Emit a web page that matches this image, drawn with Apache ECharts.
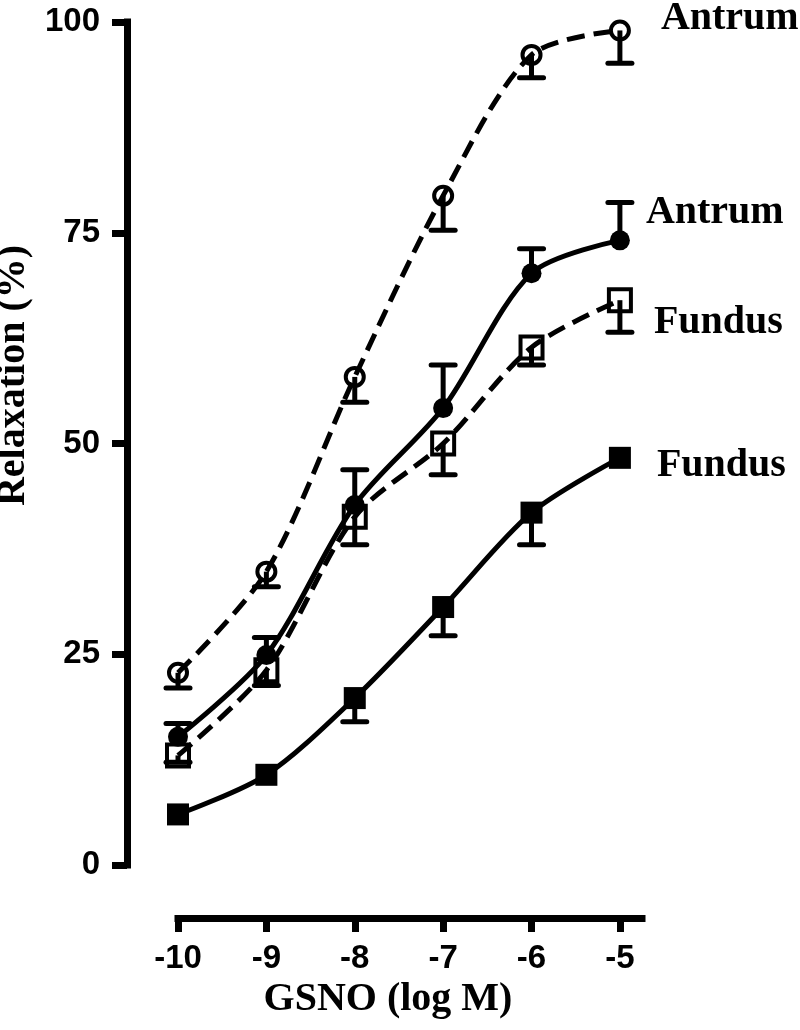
<!DOCTYPE html>
<html>
<head>
<meta charset="utf-8">
<script src="https://cdn.jsdelivr.net/npm/echarts@6/dist/echarts.min.js"></script>
<style>
  html, body { margin: 0; padding: 0; background: #fff; }
  #chart { width: 800px; height: 1030px; }
</style>
</head>
<body>
<div id="chart"></div>
<script>
// ---- data ----
const xLogM = [-10, -9, -8, -7, -6, -5];
const xTickLabels = ['-10', '-9', '-8', '-7', '-6', '-5'];
const yTicks = [0, 25, 50, 75, 100];

const antrumOpen       = [22.8, 34.8, 57.9, 79.4, 96.1, 99.0];
const antrumOpenErr    = [1.8, 1.8, 3.0, 4.1, 2.7, 3.9];   // bars drawn downward
const antrumFilled     = [15.2, 24.9, 42.7, 54.2, 70.2, 74.1];
const antrumFilledErr  = [1.6, 2.1, 4.2, 5.1, 2.9, 4.5];   // bars drawn upward
const fundusOpen       = [13.0, 23.1, 41.3, 50.0, 61.4, 67.0];
const fundusOpenErr    = [0.8, 1.8, 3.3, 3.7, 2.1, 3.8];   // bars drawn downward
const fundusFilled     = [6.0, 10.7, 19.8, 30.6, 41.8, 48.3];
const fundusFilledErr  = [0, 0, 2.8, 3.4, 3.8, 0];         // bars drawn downward

const seriesLabels = ['Antrum', 'Antrum', 'Fundus', 'Fundus'];
const xTitle = 'GSNO (log M)';
const yTitle = 'Relaxation (%)';

// ---- helpers ----
const BLACK = '#000';
const serif = 'Liberation Serif';
const sans = 'Liberation Sans';

function pts(vals) { return xLogM.map((x, i) => [x, vals[i]]); }
function withEndLabel(vals, text, offset) {
  const d = pts(vals);
  const last = d.length - 1;
  d[last] = {
    value: d[last],
    label: {
      show: true, position: 'right', offset: offset, formatter: text,
      color: BLACK, fontFamily: serif, fontWeight: 'bold', fontSize: 40
    }
  };
  return d;
}
function errData(vals, errs, dir) {
  return xLogM.map((x, i) => [x, vals[i], vals[i] + dir * errs[i]]);
}
function errSeries(vals, errs, dir) {
  return {
    type: 'custom',
    clip: false,
    z: 3,
    data: errData(vals, errs, dir),
    renderItem: function (params, api) {
      const x = api.value(0), y0 = api.value(1), y1 = api.value(2);
      if (Math.abs(y1 - y0) < 1e-9) return null;
      const p0 = api.coord([x, y0]);
      const p1 = api.coord([x, y1]);
      const half = 12;
      const style = { stroke: BLACK, lineWidth: 5, fill: null };
      return {
        type: 'group',
        children: [
          { type: 'line', shape: { x1: p0[0], y1: p0[1], x2: p1[0], y2: p1[1] }, style: style },
          { type: 'line', shape: { x1: p1[0] - half, y1: p1[1], x2: p1[0] + half, y2: p1[1] },
            style: Object.assign({ lineCap: 'round' }, style) }
        ]
      };
    }
  };
}
function lineSeries(data, dashed, symbol, size, filled) {
  return {
    type: 'line',
    data: data,
    smooth: 0.3,
    clip: false,
    z: 4,
    symbol: symbol,
    symbolSize: size,
    showAllSymbol: true,
    lineStyle: { color: BLACK, width: 5, type: dashed ? [18, 9] : 'solid' },
    itemStyle: {
      color: filled ? BLACK : 'rgba(255,255,255,0)',
      borderColor: BLACK,
      borderWidth: filled ? 0 : 4,
      opacity: 1
    },
    emphasis: { disabled: true }
  };
}

const chart = echarts.init(document.getElementById('chart'), null, { renderer: 'canvas' });
chart.setOption({
  backgroundColor: '#fff',
  animation: false,
  grid: { left: 178, right: 158, top: 22, bottom: 165, containLabel: false, outerBoundsMode: 'none' },
  xAxis: {
    type: 'value',
    min: -10, max: -4.75, interval: 1,
    offset: 53,
    axisLine: { show: true, onZero: false, lineStyle: { color: BLACK, width: 7, cap: 'square' } },
    axisTick: { show: true, inside: false, length: 14, customValues: xLogM,
                lineStyle: { color: BLACK, width: 7 } },
    axisLabel: { show: true, customValues: xLogM, margin: 24, color: BLACK,
                 fontFamily: sans, fontWeight: 'bold', fontSize: 33,
                 formatter: function (v) { const i = xLogM.indexOf(v); return i >= 0 ? xTickLabels[i] : ''; } },
    splitLine: { show: false },
    name: xTitle, nameLocation: 'middle', nameGap: 60,
    nameTextStyle: { color: BLACK, fontFamily: serif, fontWeight: 'bold', fontSize: 40, padding: [0, 44, 0, 0] }
  },
  yAxis: {
    type: 'value',
    min: 0, max: 100, interval: 25,
    offset: 51,
    axisLine: { show: true, onZero: false, lineStyle: { color: BLACK, width: 7, cap: 'square' } },
    axisTick: { show: true, inside: false, length: 15, lineStyle: { color: BLACK, width: 7 } },
    axisLabel: { show: true, margin: 27, color: BLACK, fontFamily: sans, fontWeight: 'bold', fontSize: 33,
                 formatter: function (v) { return yTicks.indexOf(v) >= 0 ? String(v) : ''; } },
    splitLine: { show: false },
    name: yTitle, nameLocation: 'middle', nameGap: 86, nameRotate: 90,
    nameTextStyle: { color: BLACK, fontFamily: serif, fontWeight: 'bold', fontSize: 40, padding: [0, 0, 0, 136] }
  },
  series: [
    errSeries(antrumOpen, antrumOpenErr, -1),
    errSeries(antrumFilled, antrumFilledErr, 1),
    errSeries(fundusOpen, fundusOpenErr, -1),
    errSeries(fundusFilled, fundusFilledErr, -1),
    lineSeries(withEndLabel(antrumOpen, seriesLabels[0], [25, -12]), true, 'circle', 18, false),
    lineSeries(withEndLabel(antrumFilled, seriesLabels[1], [11, -28]), false, 'circle', 20, true),
    lineSeries(withEndLabel(fundusOpen, seriesLabels[2], [16, 22]), true, 'rect', 22, false),
    lineSeries(withEndLabel(fundusFilled, seriesLabels[3], [21, 8]), false, 'rect', 22, true)
  ]
});
</script>
</body>
</html>
